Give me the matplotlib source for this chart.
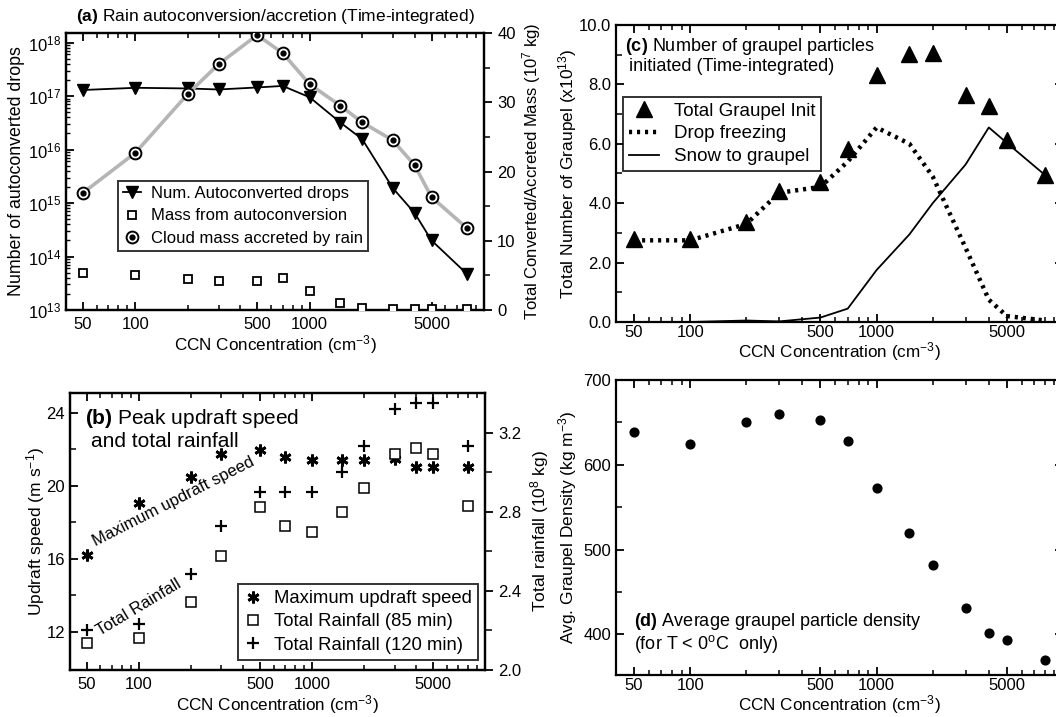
import matplotlib
matplotlib.use("Agg")
import matplotlib.pyplot as plt
from matplotlib.lines import Line2D
from matplotlib.ticker import FixedLocator, FixedFormatter, LogLocator, LogFormatterMathtext, NullFormatter, FormatStrFormatter
import numpy as np

plt.rcParams['font.family'] = ['Liberation Sans', 'DejaVu Sans']
plt.rcParams['mathtext.fontset'] = 'custom'
plt.rcParams['mathtext.rm'] = 'Liberation Sans'
plt.rcParams['mathtext.it'] = 'Liberation Sans:italic'
plt.rcParams['mathtext.bf'] = 'Liberation Sans:bold'
plt.rcParams['axes.linewidth'] = 1.6

# ---------------- data ----------------
ccn = [50, 100, 200, 300, 500, 700, 1000, 1500, 2000, 3000, 4000, 5000, 8000]

# (a)
num_autoconv = [1.3e17, 1.43e17, 1.39e17, 1.33e17, 1.45e17, 1.55e17, 9.5e16, 3.2e16,
                1.57e16, 1.9e15, 6.5e14, 2.0e14, 4.7e13]
mass_autoconv = [5.4, 5.1, 4.5, 4.2, 4.2, 4.6, 2.8, 1.0, 0.3, 0.1, 0.1, 0.1, 0.1]
mass_accreted = [16.9, 22.7, 31.2, 35.5, 39.7, 37.1, 32.6, 29.5, 27.1, 24.5, 20.9, 16.3, 11.8]

# (b)
max_updraft = [16.2, 19.07, 20.5, 21.75, 21.97, 21.6, 21.4, 21.4, 21.4, 21.5, 21.05, 21.05, 21.05]
rain_85 = [2.137, 2.162, 2.344, 2.577, 2.826, 2.73, 2.70, 2.80, 2.92, 3.09, 3.12, 3.09, 2.83]
rain_120 = [2.20, 2.233, 2.486, 2.73, 2.90, 2.90, 2.90, 3.00, 3.13, 3.32, 3.35, 3.35, 3.13]

# (c)
graupel_total = [2.79, 2.79, 3.37, 4.41, 4.72, 5.82, 8.32, 9.02, 9.06, 7.64, 7.27, 6.13, 4.95]
drop_freezing = [2.75, 2.75, 3.3, 4.35, 4.55, 5.4, 6.55, 6.0, 4.9, 2.5, 0.75, 0.2, 0.05]
snow_to_graupel = [0.0, 0.0, 0.05, 0.02, 0.15, 0.45, 1.75, 2.95, 4.0, 5.3, 6.55, 6.03, 4.95]

# (d)
graupel_density = [639, 625, 651, 660, 653, 628, 573, 519, 482, 431, 401, 393, 370]

xmajor = [50, 100, 500, 1000, 5000]
xmajor_labels = ['50', '100', '500', '1000', '5000']

W, H = 1056, 717
fig = plt.figure(figsize=(W / 100, H / 100), dpi=100)


def add_ax(l, r, t, b):
    return fig.add_axes([l / W, 1 - b / H, (r - l) / W, (b - t) / H])


def setup_x(ax, fs=12, labelpad=1, pad=5):
    ax.set_xscale('log')
    ax.set_xlim(40, 10000)
    ax.xaxis.set_major_locator(FixedLocator(xmajor))
    ax.xaxis.set_major_formatter(FixedFormatter(xmajor_labels))
    ax.xaxis.set_minor_locator(LogLocator(base=10, subs=np.arange(2, 10)))
    ax.xaxis.set_minor_formatter(NullFormatter())
    ax.tick_params(axis='x', which='both', direction='in', top=True, bottom=True, labelsize=fs, pad=pad)
    ax.tick_params(axis='x', which='major', length=6, width=1.3)
    ax.tick_params(axis='x', which='minor', length=3.5, width=1.1)
    ax.set_xlabel('CCN Concentration (cm$^{-3}$)', fontsize=12.3, labelpad=labelpad)


FS = 12

# ---------------- (a) ----------------
axa = add_ax(66, 484, 33, 310)
setup_x(axa)
axa.set_yscale('log')
axa.set_ylim(1e13, 10 ** 18.18)
axa.yaxis.set_major_locator(LogLocator(base=10, numticks=10))
axa.yaxis.set_major_formatter(LogFormatterMathtext())
axa.yaxis.set_minor_locator(LogLocator(base=10, subs=np.arange(2, 10), numticks=20))
axa.yaxis.set_minor_formatter(NullFormatter())
axa.tick_params(axis='y', which='both', direction='in', labelsize=FS)
axa.tick_params(axis='y', which='major', length=6, width=1.3)
axa.tick_params(axis='y', which='minor', length=3, width=1.0)
axa.set_ylabel('Number of autoconverted drops', fontsize=12.8, labelpad=2)
axa.plot(ccn, num_autoconv, color='black', lw=1.3, marker='v', ms=8, mfc='black', mec='black', zorder=3)

axa2 = axa.twinx()
axa2.set_ylim(0, 40)
axa2.yaxis.set_major_locator(FixedLocator([0, 10, 20, 30, 40]))
axa2.yaxis.set_minor_locator(FixedLocator([5, 15, 25, 35]))
axa2.tick_params(axis='y', which='both', direction='out', labelsize=FS)
axa2.tick_params(axis='y', which='major', length=6, width=1.3)
axa2.tick_params(axis='y', which='minor', length=4, width=1.1)
axa2.set_ylabel('Total Converted/Accreted Mass (10$^7$ kg)', fontsize=12, labelpad=3)
axa2.plot(ccn, mass_autoconv, ls='none', marker='s', ms=6, mfc='white', mec='black', mew=1.3, zorder=3)
axa2.plot(ccn, mass_accreted, color='#b5b5b5', lw=2.6, marker='o', ms=8.5, mfc='white', mec='black', mew=1.4, zorder=3)
axa2.plot(ccn, mass_accreted, ls='none', marker='o', ms=3.5, mfc='black', mec='black', zorder=4)
axa2.set_xlim(40, 10000)

h1 = Line2D([], [], color='black', lw=1.3, marker='v', ms=8, mfc='black')
h2 = Line2D([], [], ls='none', marker='s', ms=6, mfc='white', mec='black', mew=1.3)
h3a = Line2D([], [], ls='none', marker='o', ms=8.5, mfc='white', mec='black', mew=1.4)
h3b = Line2D([], [], ls='none', marker='o', ms=3.5, mfc='black', mec='black')
leg = axa2.legend([h1, h2, (h3a, h3b)],
                  ['Num. Autoconverted drops', 'Mass from autoconversion', 'Cloud mass accreted by rain'],
                  loc='upper left', bbox_to_anchor=((118 - 66) / 418, (310 - 181) / 277),
                  frameon=True, fancybox=False, edgecolor='black', fontsize=12,
                  handlelength=1.1, handletextpad=0.6, borderpad=0.3, labelspacing=0.45, borderaxespad=0)
leg.get_frame().set_linewidth(1.4)

fig.text((66 + 484) / 2 / W, 1 - 17 / H, r'$\bf{(a)}$ Rain autoconversion/accretion (Time-integrated)',
         ha='center', va='center', fontsize=12.5)

# ---------------- (b) ----------------
axb = add_ax(70, 485, 393, 670)
setup_x(axb)
axb.set_ylim(9.9, 25.1)
axb.yaxis.set_major_locator(FixedLocator([12, 16, 20, 24]))
axb.yaxis.set_minor_locator(FixedLocator([14, 18, 22]))
axb.tick_params(axis='y', which='both', direction='in', labelsize=FS)
axb.tick_params(axis='y', which='major', length=6, width=1.3)
axb.tick_params(axis='y', which='minor', length=4, width=1.1)
axb.set_ylabel('Updraft speed (m s$^{-1}$)', fontsize=12.5, labelpad=0)
star = (6, 2, 0)
axb.plot(ccn, max_updraft, ls='none', marker=star, ms=8.5, mec='black', mew=2.0, zorder=3)

axb2 = axb.twinx()
axb2.set_ylim(2.0, 3.4)
axb2.yaxis.set_major_locator(FixedLocator([2.0, 2.4, 2.8, 3.2]))
axb2.yaxis.set_major_formatter(FormatStrFormatter('%.1f'))
axb2.yaxis.set_minor_locator(FixedLocator([2.2, 2.6, 3.0]))
axb2.tick_params(axis='y', which='both', direction='out', labelsize=FS)
axb2.tick_params(axis='y', which='major', length=6, width=1.3)
axb2.tick_params(axis='y', which='minor', length=5, width=1.1)
axb2.set_ylabel('Total rainfall (10$^8$ kg)', fontsize=12.5, labelpad=5)
axb2.plot(ccn, rain_85, ls='none', marker='s', ms=7, mfc='white', mec='black', mew=1.1, zorder=3)
axb2.plot(ccn, rain_120, ls='none', marker='+', ms=9, mec='black', mew=1.6, zorder=3)
axb2.set_xlim(40, 10000)

hb1 = Line2D([], [], ls='none', marker=star, ms=8.5, mec='black', mew=2.0)
hb2 = Line2D([], [], ls='none', marker='s', ms=7, mfc='white', mec='black', mew=1.1)
hb3 = Line2D([], [], ls='none', marker='+', ms=9, mec='black', mew=1.6)
legb = axb2.legend([hb1, hb2, hb3],
                   ['Maximum updraft speed', 'Total Rainfall (85 min)', 'Total Rainfall (120 min)'],
                   loc='lower right', bbox_to_anchor=((478 - 70) / 415, (670 - 660) / 277),
                   frameon=True, fancybox=False, edgecolor='black', fontsize=13.3,
                   handlelength=1.0, handletextpad=0.6, borderpad=0.35, labelspacing=0.33, borderaxespad=0)
legb.get_frame().set_linewidth(1.4)

axb.text(0.035, 0.95, r'$\bf{(b)}$ Peak updraft speed', transform=axb.transAxes,
         ha='left', va='top', fontsize=15)
axb.text(0.05, 0.86, 'and total rainfall', transform=axb.transAxes,
         ha='left', va='top', fontsize=15)
fig.text(174 / W, 1 - 502 / H, 'Maximum updraft speed', rotation=27, ha='center', va='center', fontsize=12)
fig.text(139 / W, 1 - 607 / H, 'Total Rainfall', rotation=31, ha='center', va='center', fontsize=12)

# ---------------- (c) ----------------
axc = add_ax(616, 1063, 25, 322)
setup_x(axc, labelpad=0, pad=2)
axc.set_ylim(0, 10)
axc.yaxis.set_major_locator(FixedLocator([0, 2, 4, 6, 8, 10]))
axc.yaxis.set_major_formatter(FormatStrFormatter('%.1f'))
axc.yaxis.set_minor_locator(FixedLocator([1, 3, 5, 7, 9]))
axc.tick_params(axis='y', which='both', direction='in', labelsize=FS, right=True)
axc.tick_params(axis='y', which='major', length=6, width=1.3)
axc.tick_params(axis='y', which='minor', length=4, width=1.1, right=False)
axc.set_ylabel('Total Number of Graupel (x10$^{13}$)', fontsize=12.5, labelpad=0)
axc.plot(ccn, drop_freezing, color='black', lw=3.2, ls=(0, (0.7, 1.1)), zorder=2)
axc.plot(ccn, snow_to_graupel, color='black', lw=1.3, zorder=2)
axc.plot(ccn, graupel_total, ls='none', marker='^', ms=11, mfc='black', mec='black', zorder=3)
hc1 = Line2D([], [], ls='none', marker='^', ms=11, mfc='black', mec='black')
hc2 = Line2D([], [], color='black', lw=3.2, ls=(0, (0.7, 1.1)))
hc3 = Line2D([], [], color='black', lw=1.3)
legc = axc.legend([hc1, hc2, hc3], ['Total Graupel Init', 'Drop freezing', 'Snow to graupel'],
                  loc='upper left', bbox_to_anchor=((623 - 616) / 447, (322 - 97) / 297),
                  frameon=True, fancybox=False, edgecolor='black', fontsize=13.5,
                  handlelength=1.6, handletextpad=0.8, borderpad=0.3, labelspacing=0.3, borderaxespad=0)
legc.get_frame().set_linewidth(1.4)
axc.text(0.02, 0.962, r'$\bf{(c)}$ Number of graupel particles', transform=axc.transAxes,
         ha='left', va='top', fontsize=13)
axc.text(0.03, 0.89, 'initiated (Time-integrated)', transform=axc.transAxes,
         ha='left', va='top', fontsize=13)

# ---------------- (d) ----------------
axd = add_ax(616, 1063, 380, 675)
setup_x(axd, labelpad=0, pad=2)
axd.set_ylim(352, 700)
axd.yaxis.set_major_locator(FixedLocator([400, 500, 600, 700]))
axd.yaxis.set_minor_locator(FixedLocator([450, 550, 650]))
axd.tick_params(axis='y', which='both', direction='in', labelsize=FS, right=True)
axd.tick_params(axis='y', which='major', length=6, width=1.3)
axd.tick_params(axis='y', which='minor', length=4, width=1.1, right=False)
axd.set_ylabel('Avg. Graupel Density (kg m$^{-3}$)', fontsize=12.5, labelpad=3)
axd.plot(ccn, graupel_density, ls='none', marker='o', ms=6.3, mfc='black', mec='black', zorder=3)
axd.text(0.04, 0.18, r'$\bf{(d)}$ Average graupel particle density', transform=axd.transAxes,
         ha='left', va='center', fontsize=13)
axd.text(0.04, 0.105, r'(for T < 0$^{\rm o}$C  only)', transform=axd.transAxes,
         ha='left', va='center', fontsize=13)

fig.savefig('out.png', dpi=100)
